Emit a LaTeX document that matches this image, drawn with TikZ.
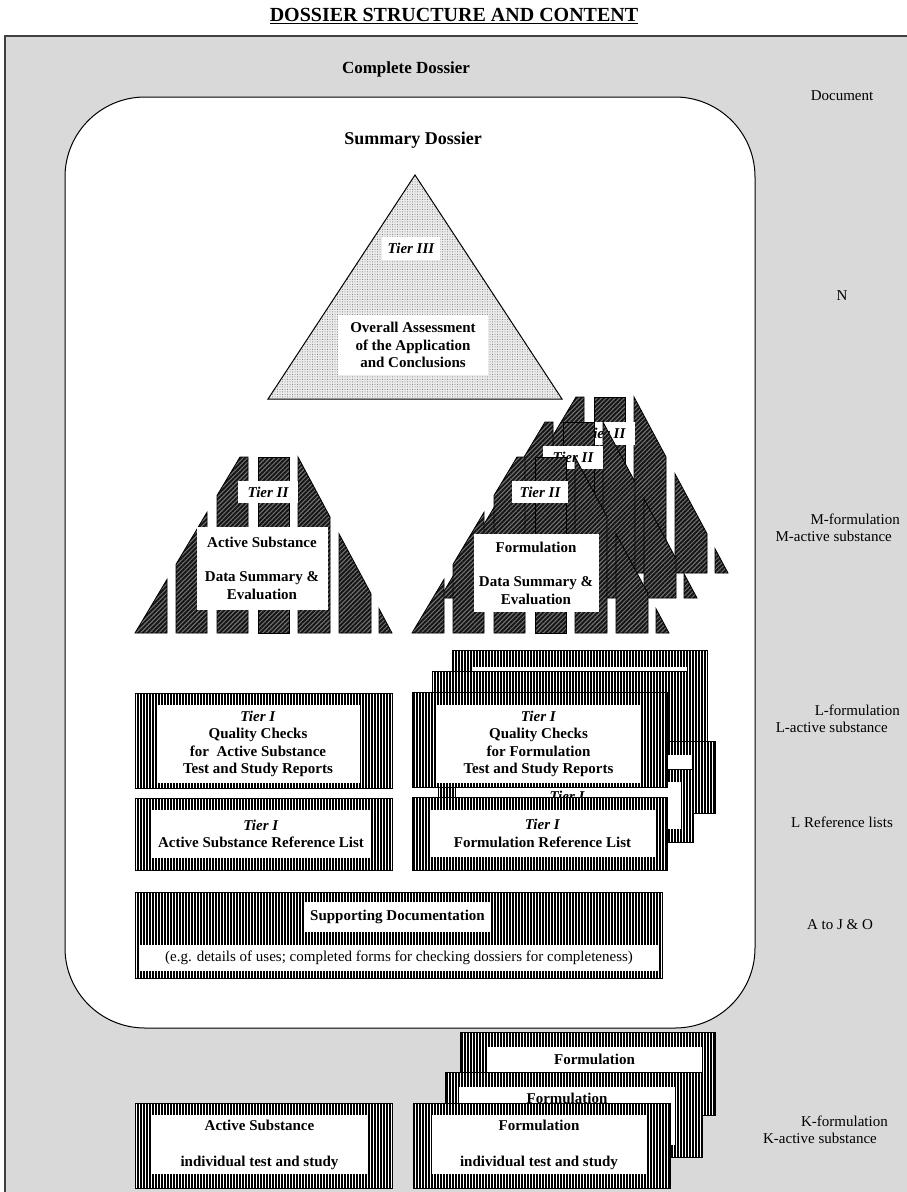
\documentclass[tikz,border=0pt]{standalone}
\usepackage{fontspec}
\setmainfont{Liberation Serif}
\usetikzlibrary{patterns.meta}

\newcommand{\dosfont}{\fontsize{15}{17.5}\selectfont}

% one Tier II pyramid, cut into vertical strips (origin = top left of the flat apex row)
\newcommand{\tiertwo}{%
  \draw[hatch] (0,176) -- (32,122.4) -- (32,176) -- cycle;
  \draw[hatch] (41,176) -- (41,107.3) -- (72,55.3) -- (72,176) -- cycle;
  \draw[hatch] (82,176) -- (82,38.5) -- (105,0) -- (113,0) -- (113,176) -- cycle;
  \draw[hatch] (123,176) rectangle (154,0);
  \draw[hatch] (163,176) -- (163,0) -- (195,59.9) -- (195,176) -- cycle;
  \draw[hatch] (204,176) -- (204,76.8) -- (236,136.7) -- (236,176) -- cycle;
  \draw[hatch] (244,176) -- (244,151.7) -- (257,176) -- cycle;
}

\begin{document}
\begin{tikzpicture}[x=1pt, y=-1pt,
    every node/.style={font=\dosfont, inner sep=0pt},
    hatch/.style={preaction={fill=black!55}, pattern={Lines[angle=45,distance=3.2pt,line width=1.9pt]}, pattern color=black!92, draw=black, line width=0.8pt},
    stripes/.style={preaction={fill=white}, pattern={Lines[angle=90,distance=3pt,line width=1.5pt]}, pattern color=black, draw=black, line width=0.6pt},
    speckle/.style={preaction={fill=black!8}, pattern={Dots[distance=2.5pt,radius=0.5pt]}, pattern color=black!55, draw=black, line width=1pt},
    wbox/.style={fill=white, align=center, font=\dosfont\bfseries},
    tierlbl/.style={fill=white, font=\dosfont\bfseries\itshape},
    side/.style={align=right, anchor=east}]
\useasboundingbox (0,0) rectangle (907,1192);

\node[font=\fontsize{20}{23}\selectfont\bfseries] (title) at (454,16) {\underline{DOSSIER STRUCTURE AND CONTENT}};

% complete dossier
\filldraw[fill=black!15, draw=black!75, line width=1.2pt] (5,36) rectangle (912,1197);
\node[font=\fontsize{17}{20}\selectfont\bfseries] (complete) at (406,69) {Complete Dossier};
\node (doclab) at (842,96) {Document};

% summary dossier
\draw[fill=white, line width=1pt, rounded corners=80pt] (65,97) rectangle (755,1028);
\node[font=\fontsize{18}{21}\selectfont\bfseries] (summary) at (413,140) {Summary Dossier};

% Tier III
\draw[speckle] (415,175) -- (562,399) -- (268,399) -- cycle;
\node[tierlbl, minimum width=58pt, minimum height=23pt] (t3) at (411,248) {Tier III};
\node[wbox, minimum width=150pt, minimum height=60pt] (overall) at (413,345) {Overall Assessment\\of the Application\\and Conclusions};
\node (nlab) at (842,296) {N};

% Tier II active substance
\begin{scope}[shift={(135,457)}] \tiertwo \end{scope}
\node[tierlbl, minimum width=60pt, minimum height=22pt] (t2as) at (268,492) {Tier II};
\node[wbox, minimum width=131pt, minimum height=83pt] (dsas) at (262,568) {Active Substance\\[17pt]Data Summary \&\\Evaluation};

% Tier II formulation
\begin{scope}[shift={(471,397)}] \tiertwo \end{scope}
\node[tierlbl, minimum width=60pt, minimum height=23pt] (t2f3) at (605,433) {Tier II};
\begin{scope}[shift={(440,422)}] \tiertwo \end{scope}
\node[tierlbl, minimum width=60pt, minimum height=23pt] (t2f2) at (573,457) {Tier II};
\begin{scope}[shift={(412,457)}] \tiertwo \end{scope}
\node[tierlbl, minimum width=56pt, minimum height=22pt] (t2f1) at (540,492) {Tier II};
\node[wbox, minimum width=125pt, minimum height=78pt] (dsf) at (536,573) {Formulation\\[17pt]Data Summary \&\\Evaluation};
\node[side] (mlab) at (900,528) {M-formulation\\M-active substance\hspace*{8pt}};

% Tier I active substance
\draw[stripes] (135,693) rectangle (392,788);
\node[wbox, minimum width=203pt, minimum height=78pt] (qcas) at (258,744) {\textit{Tier I}\\Quality Checks\\for\ \ Active Substance\\Test and Study Reports};
\draw[stripes] (135,798) rectangle (392,870);
\node[wbox, minimum width=218pt, minimum height=48pt] (rlas) at (261,834) {\textit{Tier I}\\Active Substance Reference List};

% Tier I formulation
\draw[stripes] (452,650) rectangle (707,745);
\fill[white] (472,667) rectangle (687,740);
\draw[stripes] (432,671) rectangle (687,766);
\draw[stripes] (462,741) rectangle (715,813);
\fill[white] (480,755) rectangle (692,800);
\draw[stripes] (438,769) rectangle (693,842);
\fill[white] (456,782) rectangle (681,829);
\node[font=\dosfont\bfseries\itshape] (rlf2) at (567,796) {Tier I};
\draw[stripes] (412,692) rectangle (667,787);
\node[wbox, minimum width=203pt, minimum height=78pt] (qcf) at (538.5,744) {\textit{Tier I}\\Quality Checks\\for Formulation\\Test and Study Reports};
\draw[stripes] (412,797) rectangle (667,870);
\node[wbox, minimum width=225pt, minimum height=47pt] (rlf) at (542.5,833.5) {\textit{Tier I}\\Formulation Reference List};
\node[side] (llab) at (900,719) {L-formulation\\L-active substance\hspace*{12pt}};
\node (lref) at (842,822) {L Reference lists};

% supporting documentation
\draw[stripes] (135,892) rectangle (662,978);
\node[wbox, minimum width=185pt, minimum height=30pt] (supp) at (397.5,917) {Supporting Documentation};
\node[wbox, font=\dosfont, minimum width=518pt, minimum height=26pt] (suppex) at (399,958) {(e.g. details of uses; completed forms for checking dossiers for completeness)};
\node (ajlab) at (840,925) {A to J \& O};

% K: individual test and study
\draw[stripes] (135,1103) rectangle (392,1188);
\node[wbox, minimum width=215pt, minimum height=59pt] (kas) at (259.5,1144.5) {Active Substance\\[18.5pt]individual test and study};
\draw[stripes] (460,1032) rectangle (715,1115);
\node[wbox, minimum width=215pt, minimum height=25pt] (kf3) at (594.5,1059.5) {Formulation};
\draw[stripes] (445,1072) rectangle (702,1157);
\fill[white] (459,1087) rectangle (675,1145);
\node[font=\dosfont\bfseries] (kf2) at (567,1098) {Formulation};
\draw[stripes] (413,1103) rectangle (670,1188);
\node[wbox, minimum width=214pt, minimum height=59pt] (kf1) at (539,1144.5) {Formulation\\[18.5pt]individual test and study};
\node[side] (klab) at (888,1130) {K-formulation\\K-active substance\hspace*{11pt}};

\end{tikzpicture}
\end{document}
